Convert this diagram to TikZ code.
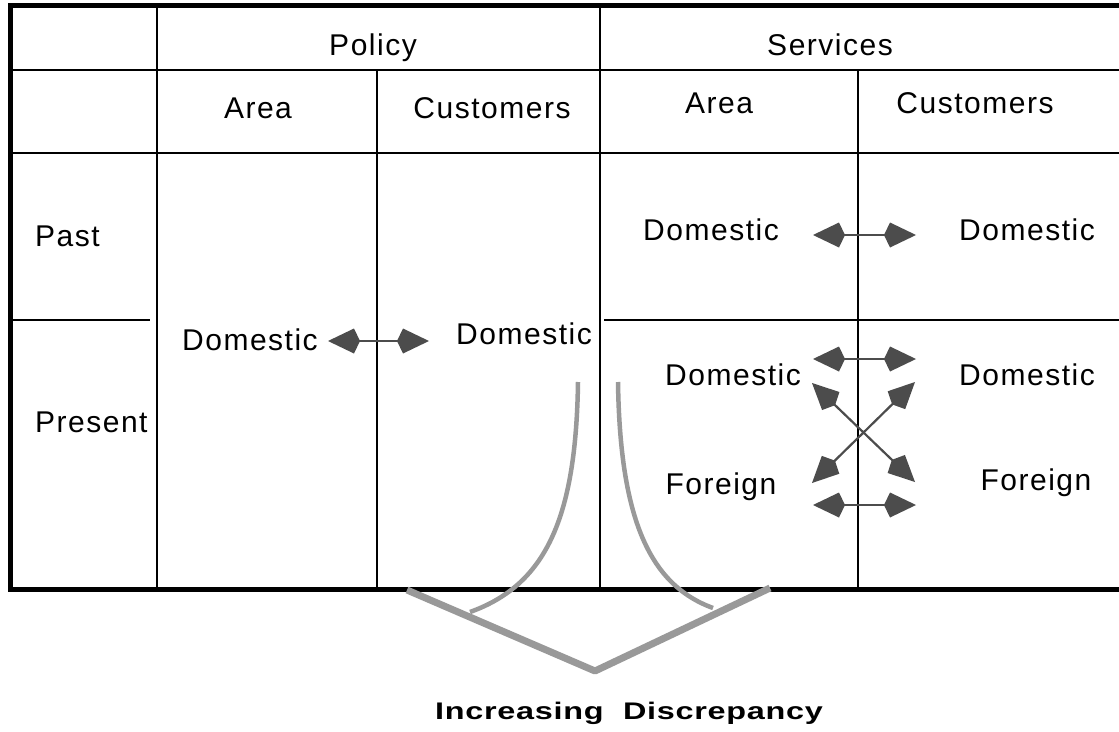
\documentclass[tikz,border=0pt]{standalone}
\usepackage{fontspec}
\setmainfont{Liberation Sans}
\newfontfamily\lbl[LetterSpace=5]{Liberation Sans}
\newfontfamily\bld[FakeStretch=1.35,LetterSpace=3]{Liberation Sans}
\usetikzlibrary{arrows.meta}
\begin{document}
\begin{tikzpicture}[x=1pt,y=-1pt,
  txt/.style={anchor=base, inner sep=0pt, font=\lbl\fontsize{30}{30}\selectfont},
  ttl/.style={anchor=base, inner sep=0pt, font=\bld\bfseries\fontsize{24}{24}\selectfont},
  outerline/.style={line width=5pt},
  innerline/.style={line width=2.5pt},
  dbl/.style={draw=black!70, line width=2.2pt,
    {Kite[length=32pt,width=25pt,inset=6pt]}-{Kite[length=32pt,width=25pt,inset=6pt]}},
  bracearm/.style={draw=black!40, line width=7pt, line join=round},
  bracecurve/.style={draw=black!40, line width=4.5pt}]
\useasboundingbox (0,0) rectangle (1119,731);
\fill[white] (0,0) rectangle (1119,731);
\clip (0,0) rectangle (1119,731);
% table
\draw[innerline] (157,5) -- (157,589);
\draw[innerline] (377,70) -- (377,589);
\draw[innerline] (600,5) -- (600,589);
\draw[innerline] (858,70) -- (858,589);
\draw[innerline] (10,70) -- (1125,70);
\draw[innerline] (10,153) -- (1125,153);
\draw[innerline] (10,320) -- (150,320);
\draw[innerline] (604,320) -- (1125,320);
\draw[outerline] (1125,5) -- (10,5) -- (10,589) -- (1125,589);
% headers
\node[txt] (policy) at (373,55) {Policy};
\node[txt] (services) at (830,55) {Services};
\node[txt] (parea) at (258,118) {Area};
\node[txt] (pcust) at (492,118) {Customers};
\node[txt] (sarea) at (719,113) {Area};
\node[txt] (scust) at (975,113) {Customers};
\node[txt, anchor=base west] (past) at (35,246) {Past};
\node[txt, anchor=base west] (present) at (35,432) {Present};
% body
\node[txt] (pdom1) at (250,350) {Domestic};
\node[txt] (pdom2) at (524,344) {Domestic};
\node[txt] (sdom1) at (711,240) {Domestic};
\node[txt] (sdom2) at (1027,240) {Domestic};
\node[txt] (sdom3) at (733,385) {Domestic};
\node[txt] (sdom4) at (1027,385) {Domestic};
\node[txt] (sfor1) at (721,494) {Foreign};
\node[txt] (sfor2) at (1036,490) {Foreign};
% arrows
\coordinate (a1) at (328,341); \coordinate (a2) at (429,341);
\coordinate (b1) at (813,235); \coordinate (b2) at (916,235);
\coordinate (c1) at (813,359); \coordinate (c2) at (916,359);
\coordinate (d1) at (813,505); \coordinate (d2) at (916,505);
\coordinate (e1) at (812,383); \coordinate (e2) at (915,482);
\coordinate (f1) at (915,382); \coordinate (f2) at (812,483);
\draw[dbl] (a1) -- (a2);
\draw[dbl] (b1) -- (b2);
\draw[dbl] (c1) -- (c2);
\draw[dbl] (d1) -- (d2);
\draw[dbl] (e1) -- (e2);
\draw[dbl] (f1) -- (f2);
% brace
\coordinate (vl) at (407,590); \coordinate (vb) at (595,671); \coordinate (vr) at (770,588);
\coordinate (cl0) at (578,382); \coordinate (cl1) at (470,612);
\coordinate (cr0) at (618,382); \coordinate (cr1) at (713,608);
\draw[bracearm] (vl) -- (vb) -- (vr);
\draw[bracecurve] (cl0) .. controls (576,520) and (545,585) .. (cl1);
\draw[bracecurve] (cr0) .. controls (620,520) and (650,585) .. (cr1);
\node[ttl] (title) at (629,719) {Increasing\ \ Discrepancy};
\end{tikzpicture}
\end{document}
